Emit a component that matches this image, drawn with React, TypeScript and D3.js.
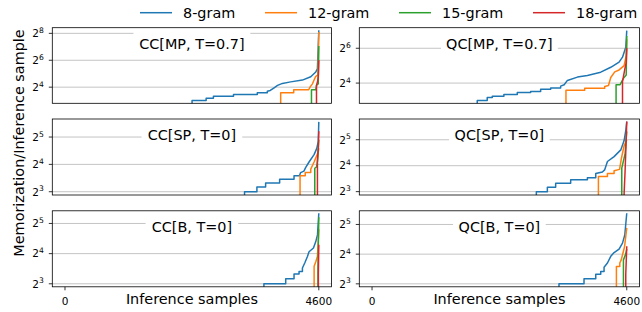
import React from 'react';
import * as d3 from 'd3';

type Pt = [number, number];

const seriesNames = ['8-gram', '12-gram', '15-gram', '18-gram'];
const seriesColors = ['#1f77b4', '#ff7f0e', '#2ca02c', '#d62728'];
const panelTitles = ['CC[MP, T=0.7]', 'QC[MP, T=0.7]', 'CC[SP, T=0]', 'QC[SP, T=0]', 'CC[B, T=0]', 'QC[B, T=0]'];
const xTicks = [0, 4600];
const xDomain: [number, number] = [-230, 4830];

// y limits as log2 exponents, and the exponents that get a tick
const yLimits: [number, number][] = [[2.8, 8.42], [2.84, 7.18], [2.88, 5.66], [2.87, 5.8], [2.9, 5.42], [2.9, 5.46]];
const yTickExps = [[4, 6, 8], [4, 6], [3, 4, 5], [3, 4, 5], [3, 4, 5], [3, 4, 5]];

// sorted per-sample ratios as [sample index, value]
const ccMp8: Pt[] = [[0, 2], [2303, 2], [2303, 8], [2558, 8], [2558, 9], [2690, 9], [2690, 10], [3054, 10], [3054, 11], [3485, 11], [3485, 12], [3667, 12], [3667, 13], [3720, 13.5], [3790, 15.5], [3852, 17.5], [3940, 19.4], [4090, 21], [4303, 23], [4454, 27.3], [4545, 35], [4575, 41], [4600, 300]];
const ccMp12: Pt[] = [[0, 2], [3909, 2], [3909, 12], [4145, 12], [4145, 14], [4418, 14], [4440, 16], [4485, 19], [4520, 24], [4545, 28], [4585, 30], [4600, 275]];
const ccMp15: Pt[] = [[0, 2], [4467, 2], [4467, 14], [4545, 14], [4560, 17.8], [4590, 19], [4600, 133]];
const ccMp18: Pt[] = [[0, 2], [4558, 2], [4558, 17.8], [4580, 22], [4592, 30], [4600, 64]];

const qcMp8: Pt[] = [[0, 2], [1900, 2], [1900, 8], [2080, 8], [2080, 9], [2171, 9], [2171, 9.5], [2381, 9.5], [2381, 10.2], [2623, 10.2], [2623, 11], [2864, 11], [2864, 11.5], [3045, 11.5], [3045, 12.5], [3226, 12.5], [3226, 13.1], [3406, 13.1], [3406, 14.2], [3470, 15], [3528, 17.8], [3709, 20.3], [3889, 21.7], [4130, 24.7], [4311, 30], [4461, 36.8], [4523, 44.9], [4582, 66.7], [4600, 129]];
const qcMp12: Pt[] = [[0, 2], [3502, 2], [3502, 12], [3840, 12], [3840, 13], [4202, 13], [4202, 14], [4270, 14.5], [4311, 20], [4383, 25], [4461, 27], [4552, 32], [4591, 48], [4600, 92]];
const qcMp15: Pt[] = [[0, 2], [4407, 2], [4407, 15], [4480, 15], [4540, 19.3], [4590, 22], [4600, 104]];
const qcMp18: Pt[] = [[0, 2], [4523, 2], [4523, 17], [4565, 28], [4590, 36], [4600, 64]];

const ccSp8: Pt[] = [[0, 2], [3254, 2], [3254, 8], [3478, 8], [3478, 9], [3636, 9], [3636, 10], [3890, 10], [3890, 11], [4151, 11], [4151, 12], [4250, 12], [4270, 13], [4330, 13.5], [4363, 14.8], [4423, 17], [4514, 20.5], [4563, 24], [4590, 28.5], [4600, 47]];
const ccSp12: Pt[] = [[0, 2], [4260, 2], [4260, 12], [4354, 12], [4354, 13], [4454, 13], [4454, 14.2], [4514, 17], [4563, 20], [4590, 22], [4600, 24]];
const ccSp15: Pt[] = [[0, 2], [4527, 2], [4527, 14.5], [4560, 15], [4580, 18], [4600, 30]];
const ccSp18: Pt[] = [[0, 2], [4575, 2], [4575, 18], [4590, 24], [4600, 37]];

const qcSp8: Pt[] = [[0, 2], [2967, 2], [2967, 8], [3166, 8], [3166, 9], [3316, 9], [3316, 10], [3587, 10], [3587, 11], [3889, 11], [3889, 11.6], [4040, 11.6], [4040, 13], [4160, 13.5], [4200, 14.3], [4251, 17.9], [4371, 20.4], [4492, 24.4], [4552, 31.3], [4585, 42], [4600, 52]];
const qcSp12: Pt[] = [[0, 2], [4088, 2], [4088, 12], [4251, 12], [4251, 13], [4371, 13], [4371, 14], [4470, 14.5], [4500, 19], [4550, 27], [4600, 32]];
const qcSp15: Pt[] = [[0, 2], [4510, 2], [4510, 15], [4570, 22], [4600, 40]];
const qcSp18: Pt[] = [[0, 2], [4552, 2], [4552, 7.5], [4570, 14], [4585, 26], [4600, 52]];

const ccB8: Pt[] = [[0, 2], [3605, 2], [3605, 8], [4000, 8], [4000, 9], [4151, 9], [4151, 10], [4242, 10], [4242, 10.6], [4303, 10.6], [4303, 11.5], [4345, 12.9], [4394, 15], [4423, 16.7], [4503, 18.2], [4545, 21.1], [4576, 24.6], [4600, 40.5]];
const ccB12: Pt[] = [[0, 2], [4515, 2], [4515, 12], [4545, 13.3], [4575, 15], [4600, 28]];
const ccB15: Pt[] = [[0, 2], [4585, 2], [4585, 12], [4600, 37]];
const ccB18: Pt[] = [[0, 2], [4592, 2], [4592, 10], [4600, 19.6]];

const qcB8: Pt[] = [[0, 2], [3376, 2], [3376, 8], [3828, 8], [3828, 9], [4040, 9], [4040, 10], [4130, 10], [4130, 10.7], [4190, 10.7], [4190, 11.8], [4251, 13], [4311, 15.2], [4371, 16.6], [4461, 18], [4523, 20.7], [4564, 25], [4600, 41.6]];
const qcB12: Pt[] = [[0, 2], [4413, 2], [4413, 12], [4474, 12], [4474, 13], [4500, 14], [4520, 15.5], [4560, 19], [4600, 29.5]];
const qcB15: Pt[] = [[0, 2], [4540, 2], [4540, 14], [4580, 16], [4600, 18]];
const qcB18: Pt[] = [[0, 2], [4582, 2], [4582, 10], [4600, 19.2]];

const panelData: Pt[][][] = [
  [ccMp8, ccMp12, ccMp15, ccMp18],
  [qcMp8, qcMp12, qcMp15, qcMp18],
  [ccSp8, ccSp12, ccSp15, ccSp18],
  [qcSp8, qcSp12, qcSp15, qcSp18],
  [ccB8, ccB12, ccB15, ccB18],
  [qcB8, qcB12, qcB15, qcB18],
];

const W = 642;
const H = 312;
const FONT = 'DejaVu Sans, sans-serif';
const colX = [[52.3, 331.5], [359.3, 639.5]];
const rowY = [[27.7, 103.3], [119, 195], [210.8, 286.8]];
const legendX = [140, 265, 399, 533];

const Panel: React.FC<{ idx: number }> = ({ idx }) => {
  const col = idx % 2;
  const row = Math.floor(idx / 2);
  const [x0, x1] = colX[col];
  const [y0, y1] = rowY[row];
  const [lo, hi] = yLimits[idx];

  const x = d3.scaleLinear().domain(xDomain).range([x0, x1]);
  const y = d3.scaleLog().base(2).domain([2 ** lo, 2 ** hi]).range([y1, y0]);
  const line = d3
    .line<Pt>()
    .x((d) => x(d[0]))
    .y((d) => y(d[1]));

  const title = panelTitles[idx];
  const titleW = title.length * 0.56 * 14.4;
  const cx = (x0 + x1) / 2;
  const ty = y0 + 20.8;
  const clipId = `clip-${idx}`;

  return (
    <g>
      <defs>
        <clipPath id={clipId}>
          <rect x={x0} y={y0} width={x1 - x0} height={y1 - y0} />
        </clipPath>
      </defs>
      {yTickExps[idx].map((e) => (
        <line key={e} x1={x0} x2={x1} y1={y(2 ** e)} y2={y(2 ** e)} stroke='#c4c4c4' strokeWidth={1} />
      ))}
      <g clipPath={`url(#${clipId})`}>
        {panelData[idx].map((s, i) => (
          <path key={i} d={line(s) || ''} fill='none' stroke={seriesColors[i]} strokeWidth={1.5} strokeLinejoin='round' />
        ))}
      </g>
      <rect x={cx - titleW / 2 - 6} y={ty - 17} width={titleW + 12} height={25} fill='#fff' />
      <text x={cx} y={ty} textAnchor='middle' fontSize={14.4} fontFamily={FONT} fill='#000'>
        {title}
      </text>
      <rect x={x0} y={y0} width={x1 - x0} height={y1 - y0} fill='none' stroke='#000' strokeWidth={0.8} />
      {yTickExps[idx].map((e) => (
        <g key={e}>
          <line x1={x0 - 3.5} x2={x0} y1={y(2 ** e)} y2={y(2 ** e)} stroke='#000' strokeWidth={0.8} />
          <text x={x0 - 8.5} y={y(2 ** e) + 3.8} textAnchor='end' fontFamily={FONT} fill='#000'>
            <tspan fontSize={10.5}>2</tspan>
            <tspan fontSize={7.6} dy={-4.2}>{e}</tspan>
          </text>
        </g>
      ))}
      {row === 2 && (
        <g>
          {xTicks.map((t) => (
            <g key={t}>
              <line x1={x(t)} x2={x(t)} y1={y1} y2={y1 + 3.5} stroke='#000' strokeWidth={0.8} />
              <text x={x(t)} y={305} textAnchor='middle' fontSize={10.5} fontFamily={FONT} fill='#000'>
                {t}
              </text>
            </g>
          ))}
          <text x={cx} y={304} textAnchor='middle' fontSize={14.4} fontFamily={FONT} fill='#000'>
            Inference samples
          </text>
        </g>
      )}
    </g>
  );
};

const App: React.FC = () => {
  return (
    <svg width={W} height={H} style={{ position: 'absolute', left: 0, top: 0, background: '#fff' }}>
      <rect width={W} height={H} fill='#fff' />
      {panelTitles.map((_, i) => (
        <Panel key={i} idx={i} />
      ))}
      {seriesNames.map((name, i) => (
        <g key={name}>
          <line x1={legendX[i]} x2={legendX[i] + 32} y1={12.7} y2={12.7} stroke={seriesColors[i]} strokeWidth={1.5} />
          <text x={legendX[i] + 43} y={17.5} fontSize={14.4} fontFamily={FONT} fill='#000'>
            {name}
          </text>
        </g>
      ))}
      <text
        transform='translate(24,143) rotate(-90)'
        textAnchor='middle'
        fontSize={14.4}
        fontFamily={FONT}
        fill='#000'
      >
        Memorization/Inference sample
      </text>
    </svg>
  );
};

export default App;
